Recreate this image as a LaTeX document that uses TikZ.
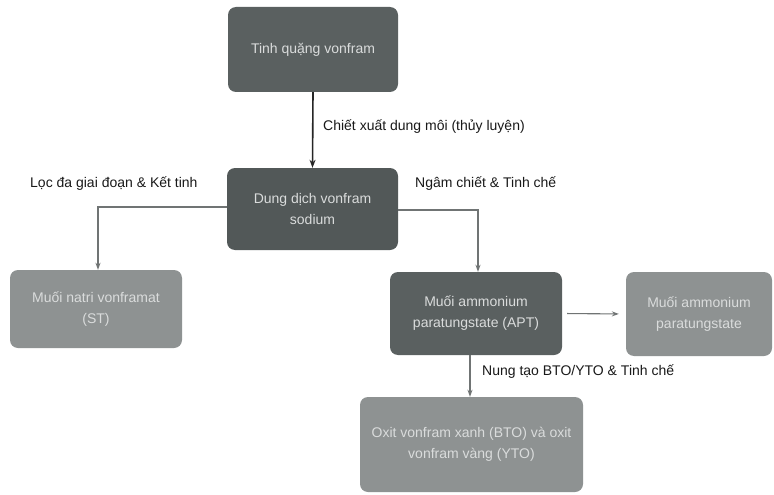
\documentclass[tikz,border=0pt]{standalone}
\usepackage{fontspec}
\setmainfont{Liberation Sans}
\usetikzlibrary{arrows.meta}
\definecolor{darkbox}{HTML}{5A6060}
\definecolor{darkerbox}{HTML}{525858}
\definecolor{lightbox}{HTML}{8E9292}
\definecolor{boxtext}{HTML}{DADCDC}
\definecolor{conn}{HTML}{707474}
\tikzset{
  box/.style={rounded corners=8pt, inner sep=0pt, align=center, text=boxtext,
    font=\fontsize{14}{21}\selectfont},
  lbl/.style={font=\fontsize{14}{16}\selectfont, text=black!90, inner sep=0pt},
  grayconn/.style={draw=conn, line width=1.1pt, -{Stealth[length=7pt,width=5pt]}},
  blackconn/.style={draw=black!85, line width=1.6pt, -{Stealth[length=8pt,width=6pt]}},
}
\begin{document}
\begin{tikzpicture}[x=1pt,y=-1pt]
\useasboundingbox (0,0) rectangle (774,495);
\fill[white] (0,0) rectangle (774,495);
% boxes
\node[box, fill=darkbox, minimum width=170pt, minimum height=85pt] (ore) at (313,49.5) {Tinh quặng vonfram};
\node[box, fill=darkerbox, minimum width=171pt, minimum height=82pt] (sol) at (312.5,209) {Dung dịch vonfram\\sodium};
\node[box, fill=lightbox, minimum width=172pt, minimum height=78pt] (st) at (96,309) {Muối natri vonframat\\(ST)};
\node[box, fill=darkbox, minimum width=172pt, minimum height=83pt] (apt) at (476,313.5) {Muối ammonium\\paratungstate (APT)};
\node[box, fill=lightbox, minimum width=146pt, minimum height=84pt] (apt2) at (699,314) {Muối ammonium\\paratungstate};
\node[box, fill=lightbox, minimum width=223pt, minimum height=95pt] (oxit) at (471.5,444.5) {Oxit vonfram xanh (BTO) và oxit\\vonfram vàng (YTO)};
% connectors
\draw[blackconn] (ore.south) -- (sol.north);
\draw[grayconn] (sol.west |- 0,207) -| (st.north -| 98,0);
\draw[grayconn] (sol.east |- 0,210) -| (apt.north -| 478,0);
\draw[grayconn, shorten <=5pt, shorten >=7pt] (apt.east) -- (apt2.west);
\draw[grayconn] (apt.south -| 470,0) -- (oxit.north -| 470,0);
% labels
\node[lbl, anchor=west] (l1) at (323,127) {Chiết xuất dung môi (thủy luyện)};
\node[lbl, anchor=west] (l2) at (30,184) {Lọc đa giai đoạn \& Kết tinh};
\node[lbl, anchor=west] (l3) at (415,184) {Ngâm chiết \& Tinh chế};
\node[lbl, anchor=west] (l4) at (482,372) {Nung tạo BTO/YTO \& Tinh chế};
\end{tikzpicture}
\end{document}
